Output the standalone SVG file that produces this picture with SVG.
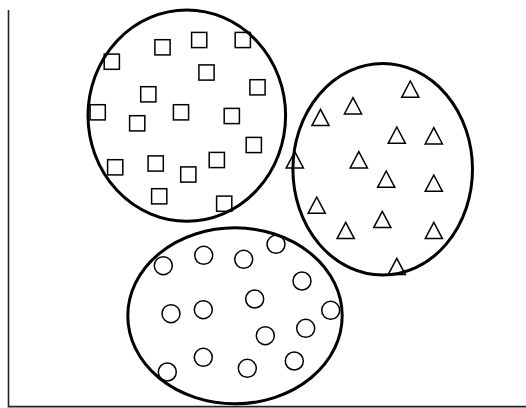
<svg xmlns="http://www.w3.org/2000/svg" xmlns:xlink="http://www.w3.org/1999/xlink" width="526" height="408" viewBox="0 0 526 408">
<style>
.big{fill:none;stroke:#000;stroke-width:3}
.sm{fill:none;stroke:#000;stroke-width:1.5}
.axis{fill:none;stroke:#222;stroke-width:1.6}
</style>
<defs>
<rect id="sq" class="sm" x="-7.6" y="-7.6" width="15.2" height="15.2"/>
<path id="tri" class="sm" d="M0,0 L8.6,16.3 L-8.6,16.3 Z"/>
<circle id="ci" class="sm" r="9"/>
</defs>
<rect width="526" height="408" fill="#fff"/>
<g id="axes">
<polyline class="axis" points="8.5,10 8.5,406.6 526,406.6"/>
</g>
<g id="squares">
<ellipse class="big" cx="186.8" cy="115.6" rx="98.8" ry="105.6"/>
<use xlink:href="#sq" x="111.8" y="61.7"/>
<use xlink:href="#sq" x="162.5" y="47.3"/>
<use xlink:href="#sq" x="199.2" y="40"/>
<use xlink:href="#sq" x="242.8" y="40"/>
<use xlink:href="#sq" x="206.5" y="72.5"/>
<use xlink:href="#sq" x="257.5" y="87.3"/>
<use xlink:href="#sq" x="148.3" y="94.3"/>
<use xlink:href="#sq" x="97.7" y="112.3"/>
<use xlink:href="#sq" x="181" y="112.3"/>
<use xlink:href="#sq" x="137.2" y="123.3"/>
<use xlink:href="#sq" x="231.8" y="116"/>
<use xlink:href="#sq" x="253.8" y="145"/>
<use xlink:href="#sq" x="115.2" y="167.3"/>
<use xlink:href="#sq" x="155.7" y="163.5"/>
<use xlink:href="#sq" x="216.8" y="160"/>
<use xlink:href="#sq" x="188.3" y="174.5"/>
<use xlink:href="#sq" x="159.2" y="196.3"/>
<use xlink:href="#sq" x="224.2" y="203.7"/>
</g>
<g id="triangles">
<ellipse class="big" cx="382.7" cy="169.3" rx="89.8" ry="105.8"/>
<use xlink:href="#tri" x="410.3" y="81"/>
<use xlink:href="#tri" x="353" y="97.7"/>
<use xlink:href="#tri" x="320.5" y="109.3"/>
<use xlink:href="#tri" x="396.8" y="127"/>
<use xlink:href="#tri" x="433.8" y="127.7"/>
<use xlink:href="#tri" x="294.8" y="151.7"/>
<use xlink:href="#tri" x="358.8" y="151.7"/>
<use xlink:href="#tri" x="386.2" y="171"/>
<use xlink:href="#tri" x="433.8" y="175"/>
<use xlink:href="#tri" x="316.7" y="197"/>
<use xlink:href="#tri" x="345.7" y="222.3"/>
<use xlink:href="#tri" x="382.3" y="211.3"/>
<use xlink:href="#tri" x="433.8" y="222.3"/>
<use xlink:href="#tri" x="396.8" y="258.3"/>
</g>
<g id="circles">
<ellipse class="big" cx="235" cy="315.8" rx="107.2" ry="88"/>
<use xlink:href="#ci" x="163.3" y="265.7"/>
<use xlink:href="#ci" x="203.7" y="255.3"/>
<use xlink:href="#ci" x="243.7" y="259.3"/>
<use xlink:href="#ci" x="276" y="244.3"/>
<use xlink:href="#ci" x="302" y="281"/>
<use xlink:href="#ci" x="254.7" y="299"/>
<use xlink:href="#ci" x="171" y="313.7"/>
<use xlink:href="#ci" x="203.3" y="309.7"/>
<use xlink:href="#ci" x="330.7" y="310.3"/>
<use xlink:href="#ci" x="305.7" y="328.3"/>
<use xlink:href="#ci" x="265.3" y="335.7"/>
<use xlink:href="#ci" x="203.3" y="357.3"/>
<use xlink:href="#ci" x="247.3" y="368.3"/>
<use xlink:href="#ci" x="294.3" y="361"/>
<use xlink:href="#ci" x="167.3" y="372"/>
</g>
</svg>
